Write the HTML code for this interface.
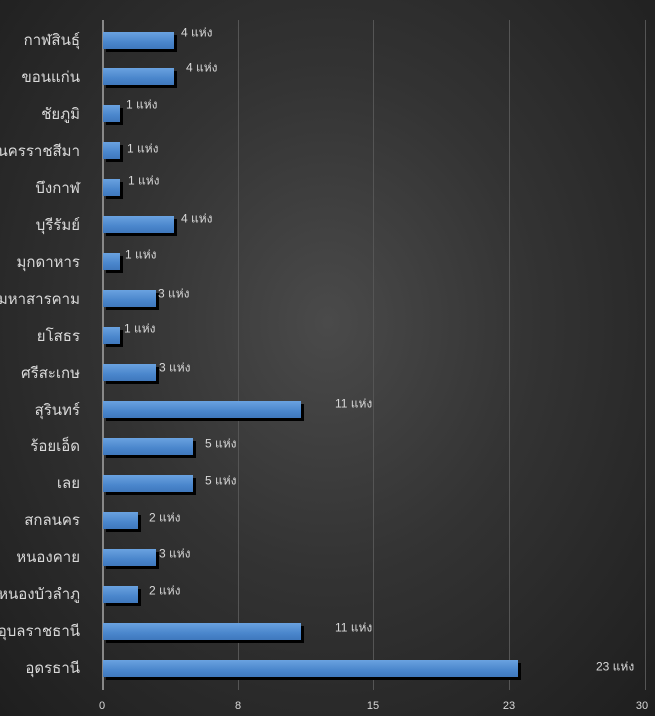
<!DOCTYPE html>
<html><head><meta charset="utf-8"><style>
html,body{margin:0;padding:0}
body{width:655px;height:716px;overflow:hidden;background:radial-gradient(ellipse at 50% 45%,#4a4a4a 0%,#333 45%,#1e1e1e 100%);font-family:"Liberation Sans","Noto Sans CJK SC",sans-serif;position:relative;color:#d9d9d9}
.g{position:absolute;top:20px;height:670px;width:1px;background:#555}
.cat{position:absolute;right:575px;font-size:15px;white-space:nowrap;transform:translateY(-50%)}
.bar{position:absolute;left:103px;height:17px;background:linear-gradient(#6aa2e0,#4a86cc 60%,#3f78bd);box-shadow:3px 3px 0 #000}
.lab{position:absolute;font-size:12px;white-space:nowrap;transform:translateY(-50%)}
.t{position:absolute;top:700px;font-size:11px;transform:translateX(-50%)}
</style></head><body>
<div class="g" style="left:238px"></div>
<div class="g" style="left:373px"></div>
<div class="g" style="left:509px"></div>
<div class="g" style="left:645px"></div>
<div class="g" style="left:102px;background:#888;width:2px"></div>
<div id="c"></div>
<div class="t" style="left:102px">0</div>
<div class="t" style="left:238px">8</div>
<div class="t" style="left:373px">15</div>
<div class="t" style="left:509px">23</div>
<div class="t" style="left:642px">30</div>
<script>
var d=[["กาฬสินธุ์",4,181,33],["ขอนแก่น",4,186,68],["ชัยภูมิ",1,126,105],["นครราชสีมา",1,127,149],["บึงกาฬ",1,128,181],["บุรีรัมย์",4,181,219],["มุกดาหาร",1,125,255],["มหาสารคาม",3,158,294],["ยโสธร",1,124,329],["ศรีสะเกษ",3,159,368],["สุรินทร์",11,335,404],["ร้อยเอ็ด",5,205,444],["เลย",5,205,481],["สกลนคร",2,149,518],["หนองคาย",3,159,554],["หนองบัวลำภู",2,149,591],["อุบลราชธานี",11,335,628],["อุดรธานี",23,596,667]];
var h="";
d.forEach(function(r,i){var cy=40+i*36.95;
h+='<div class="cat" style="top:'+cy+'px">'+r[0]+'</div>';
h+='<div class="bar" style="top:'+(cy-8.5)+'px;width:'+(r[1]*18.1-1)+'px"></div>';
h+='<div class="lab" style="left:'+r[2]+'px;top:'+r[3]+'px">'+r[1]+' แห่ง</div>';});
document.getElementById("c").innerHTML=h;
</script>
</body></html>
